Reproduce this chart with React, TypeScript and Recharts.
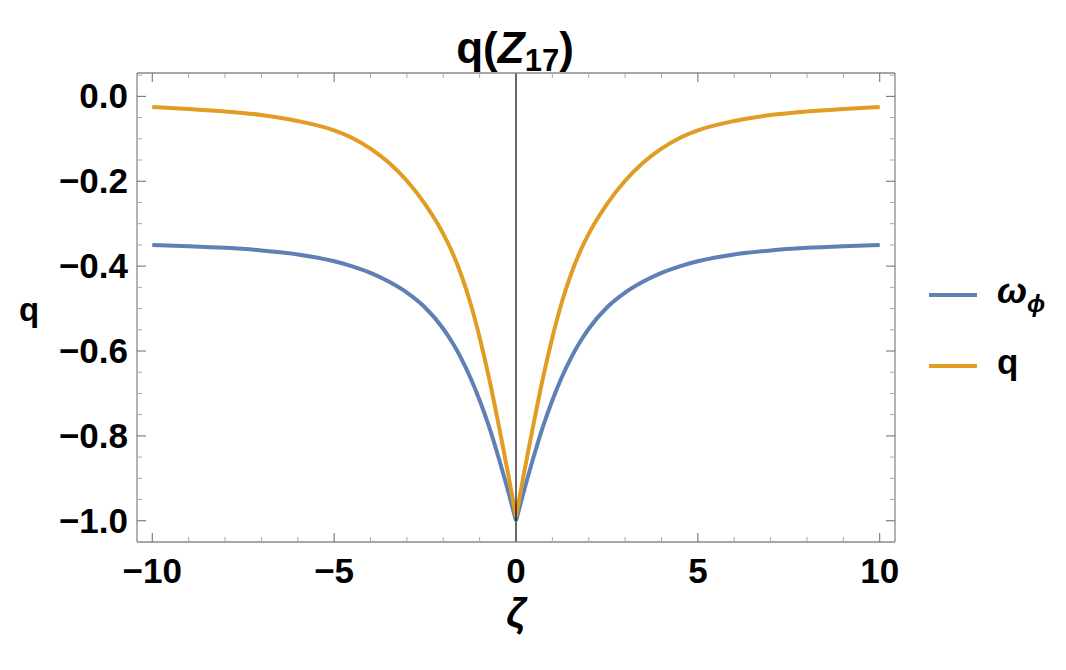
import React from 'react';
import { LineChart, Line, XAxis, YAxis, ReferenceLine } from 'recharts';

// ---- data ----
const zeta = [-10, -9, -8, -7, -6, -5, -4.5, -4, -3.5, -3, -2.5, -2, -1.75, -1.5, -1.25, -1, -0.75, -0.5, -0.25, 0,
  0.25, 0.5, 0.75, 1, 1.25, 1.5, 1.75, 2, 2.5, 3, 3.5, 4, 4.5, 5, 6, 7, 8, 9, 10];
const omegaPhi = [-0.350, -0.353, -0.357, -0.363, -0.3725, -0.3885, -0.4005, -0.416, -0.4365, -0.4625, -0.4975, -0.5475, -0.580, -0.6185, -0.6635, -0.716, -0.776, -0.845, -0.920, -1.000,
  -0.920, -0.845, -0.776, -0.716, -0.6635, -0.6185, -0.580, -0.5475, -0.4975, -0.4625, -0.4365, -0.416, -0.4005, -0.3885, -0.3725, -0.363, -0.357, -0.353, -0.350];
const qValues = [-0.025, -0.0297, -0.0355, -0.044, -0.058, -0.080, -0.098, -0.123, -0.156, -0.199, -0.254, -0.324, -0.368, -0.422, -0.488, -0.568, -0.660, -0.764, -0.874, -0.990,
  -0.874, -0.764, -0.660, -0.568, -0.488, -0.422, -0.368, -0.324, -0.254, -0.199, -0.156, -0.123, -0.098, -0.080, -0.058, -0.044, -0.0355, -0.0297, -0.025];

const xTicks = [-10, -9, -8, -7, -6, -5, -4, -3, -2, -1, 0, 1, 2, 3, 4, 5, 6, 7, 8, 9, 10];
const xMajorTicks = [-10, -5, 0, 5, 10];
const xTickLabels = ['\u221210', '\u22125', '0', '5', '10'];
const yTicks = [-1.0, -0.95, -0.9, -0.85, -0.8, -0.75, -0.7, -0.65, -0.6, -0.55, -0.5, -0.45, -0.4, -0.35, -0.3, -0.25, -0.2, -0.15, -0.1, -0.05, 0, 0.05];
const yMajorTicks = [-1.0, -0.8, -0.6, -0.4, -0.2, 0];
const yTickLabels = ['\u22121.0', '\u22120.8', '\u22120.6', '\u22120.4', '\u22120.2', '0.0'];

const seriesNames = ['\u03c9', 'q'];

const data = zeta.map((z, i) => ({
  zeta: z,
  wL: z <= 0 ? omegaPhi[i] : null,
  wR: z >= 0 ? omegaPhi[i] : null,
  qL: z <= 0 ? qValues[i] : null,
  qR: z >= 0 ? qValues[i] : null,
}));

const BLUE = '#5E81B5';
const ORANGE = '#E19C24';
const FONT = '"Liberation Sans", Arial, Helvetica, sans-serif';
const FRAME = '#8a8a8a';
const MAJOR = '#6a6a6a';
const MINOR = '#a8a8a8';
const LW = 4;
const W = 1066;
const H = 670;

const near = (a: number, b: number) => Math.abs(a - b) < 1e-6;
const majorIndex = (v: number, list: number[]) => list.findIndex((m) => near(m, v));

const BottomTick = (props: any) => {
  const { x, y, payload } = props;
  const mi = majorIndex(payload.value, xMajorTicks);
  const major = mi >= 0;
  return (
    <g>
      <line x1={x} x2={x} y1={y} y2={y - (major ? 9 : 5)} stroke={major ? MAJOR : MINOR} strokeWidth={1} />
      {major && (
        <text x={x} y={y + 41} textAnchor="middle" fontFamily={FONT} fontWeight="bold" fontSize={35} fill="#000">
          {xTickLabels[mi]}
        </text>
      )}
    </g>
  );
};

const TopTick = (props: any) => {
  const { x, y, payload } = props;
  const major = majorIndex(payload.value, xMajorTicks) >= 0;
  return <line x1={x} x2={x} y1={y} y2={y + (major ? 9 : 5)} stroke={major ? MAJOR : MINOR} strokeWidth={1} />;
};

const LeftTick = (props: any) => {
  const { x, y, payload } = props;
  const mi = majorIndex(payload.value, yMajorTicks);
  const major = mi >= 0;
  return (
    <g>
      <line x1={x} x2={x + (major ? 9 : 5)} y1={y} y2={y} stroke={major ? MAJOR : MINOR} strokeWidth={1} />
      {major && (
        <text x={x - 9} y={y + 12} textAnchor="end" fontFamily={FONT} fontWeight="bold" fontSize={35} fill="#000">
          {yTickLabels[mi]}
        </text>
      )}
    </g>
  );
};

const RightTick = (props: any) => {
  const { x, y, payload } = props;
  const major = majorIndex(payload.value, yMajorTicks) >= 0;
  return <line x1={x} x2={x - (major ? 9 : 5)} y1={y} y2={y} stroke={major ? MAJOR : MINOR} strokeWidth={1} />;
};

export default function App() {
  return (
    <div style={{ position: 'absolute', left: 0, top: 0, width: W, height: H, background: '#fff' }}>
      <LineChart
        width={W}
        height={H}
        data={data}
        margin={{ top: 72, right: 170, bottom: 127, left: 77 }}
      >
        <XAxis
          xAxisId="b"
          dataKey="zeta"
          type="number"
          domain={[-10.42, 10.42]}
          allowDataOverflow
          ticks={xTicks}
          interval={0}
          orientation="bottom"
          height={1}
          tickSize={0}
          tickMargin={0}
          tickLine={false}
          axisLine={{ stroke: FRAME, strokeWidth: 1.3 }}
          tick={<BottomTick />}
        />
        <XAxis
          xAxisId="t"
          dataKey="zeta"
          type="number"
          domain={[-10.42, 10.42]}
          allowDataOverflow
          ticks={xTicks}
          interval={0}
          orientation="top"
          height={1}
          tickSize={0}
          tickMargin={0}
          tickLine={false}
          axisLine={{ stroke: FRAME, strokeWidth: 1.3 }}
          tick={<TopTick />}
        />
        <YAxis
          yAxisId="l"
          type="number"
          domain={[-1.05, 0.055]}
          allowDataOverflow
          ticks={yTicks}
          interval={0}
          orientation="left"
          width={60}
          tickSize={0}
          tickMargin={0}
          tickLine={false}
          axisLine={{ stroke: FRAME, strokeWidth: 1.3 }}
          tick={<LeftTick />}
        />
        <YAxis
          yAxisId="r"
          type="number"
          domain={[-1.05, 0.055]}
          allowDataOverflow
          ticks={yTicks}
          interval={0}
          orientation="right"
          width={1}
          tickSize={0}
          tickMargin={0}
          tickLine={false}
          axisLine={{ stroke: FRAME, strokeWidth: 1.3 }}
          tick={<RightTick />}
        />
        <Line xAxisId="b" yAxisId="l" dataKey="wL" type="monotone" stroke={BLUE} strokeWidth={LW} dot={false} activeDot={false} isAnimationActive={false} />
        <Line xAxisId="b" yAxisId="l" dataKey="wR" type="monotone" stroke={BLUE} strokeWidth={LW} dot={false} activeDot={false} isAnimationActive={false} />
        <Line xAxisId="b" yAxisId="l" dataKey="qL" type="monotone" stroke={ORANGE} strokeWidth={LW} dot={false} activeDot={false} isAnimationActive={false} />
        <Line xAxisId="b" yAxisId="l" dataKey="qR" type="monotone" stroke={ORANGE} strokeWidth={LW} dot={false} activeDot={false} isAnimationActive={false} />
        <ReferenceLine xAxisId="b" yAxisId="l" x={0} stroke="#000" strokeWidth={1.2} />
      </LineChart>
      <svg
        width={W}
        height={H}
        style={{ position: 'absolute', left: 0, top: 0, pointerEvents: 'none' }}
      >
        <text x={515} y={63} textAnchor="middle" fontFamily={FONT} fontWeight="bold" fontSize={44} fill="#000">
          q(<tspan fontStyle="italic">Z</tspan>
          <tspan fontSize={31} dy={8}>17</tspan>
          <tspan dy={-8}>)</tspan>
        </text>
        <text x={29} y={321} textAnchor="middle" fontFamily={FONT} fontWeight="bold" fontSize={33} fill="#000">q</text>
        <text x={516} y={627} textAnchor="middle" fontFamily={FONT} fontWeight="bold" fontStyle="italic" fontSize={40} fill="#000">ζ</text>
        <line x1={929} x2={977} y1={295} y2={295} stroke={BLUE} strokeWidth={LW} />
        <text x={997} y={303} fontFamily={FONT} fontWeight="bold" fontSize={36} fill="#000">
          <tspan fontStyle="italic">{seriesNames[0]}</tspan>
          <tspan fontStyle="italic" fontSize={24} dy={9}>ϕ</tspan>
        </text>
        <line x1={929} x2={977} y1={366} y2={366} stroke={ORANGE} strokeWidth={LW} />
        <text x={997} y={374} fontFamily={FONT} fontWeight="bold" fontSize={35} fill="#000">{seriesNames[1]}</text>
      </svg>
    </div>
  );
}
